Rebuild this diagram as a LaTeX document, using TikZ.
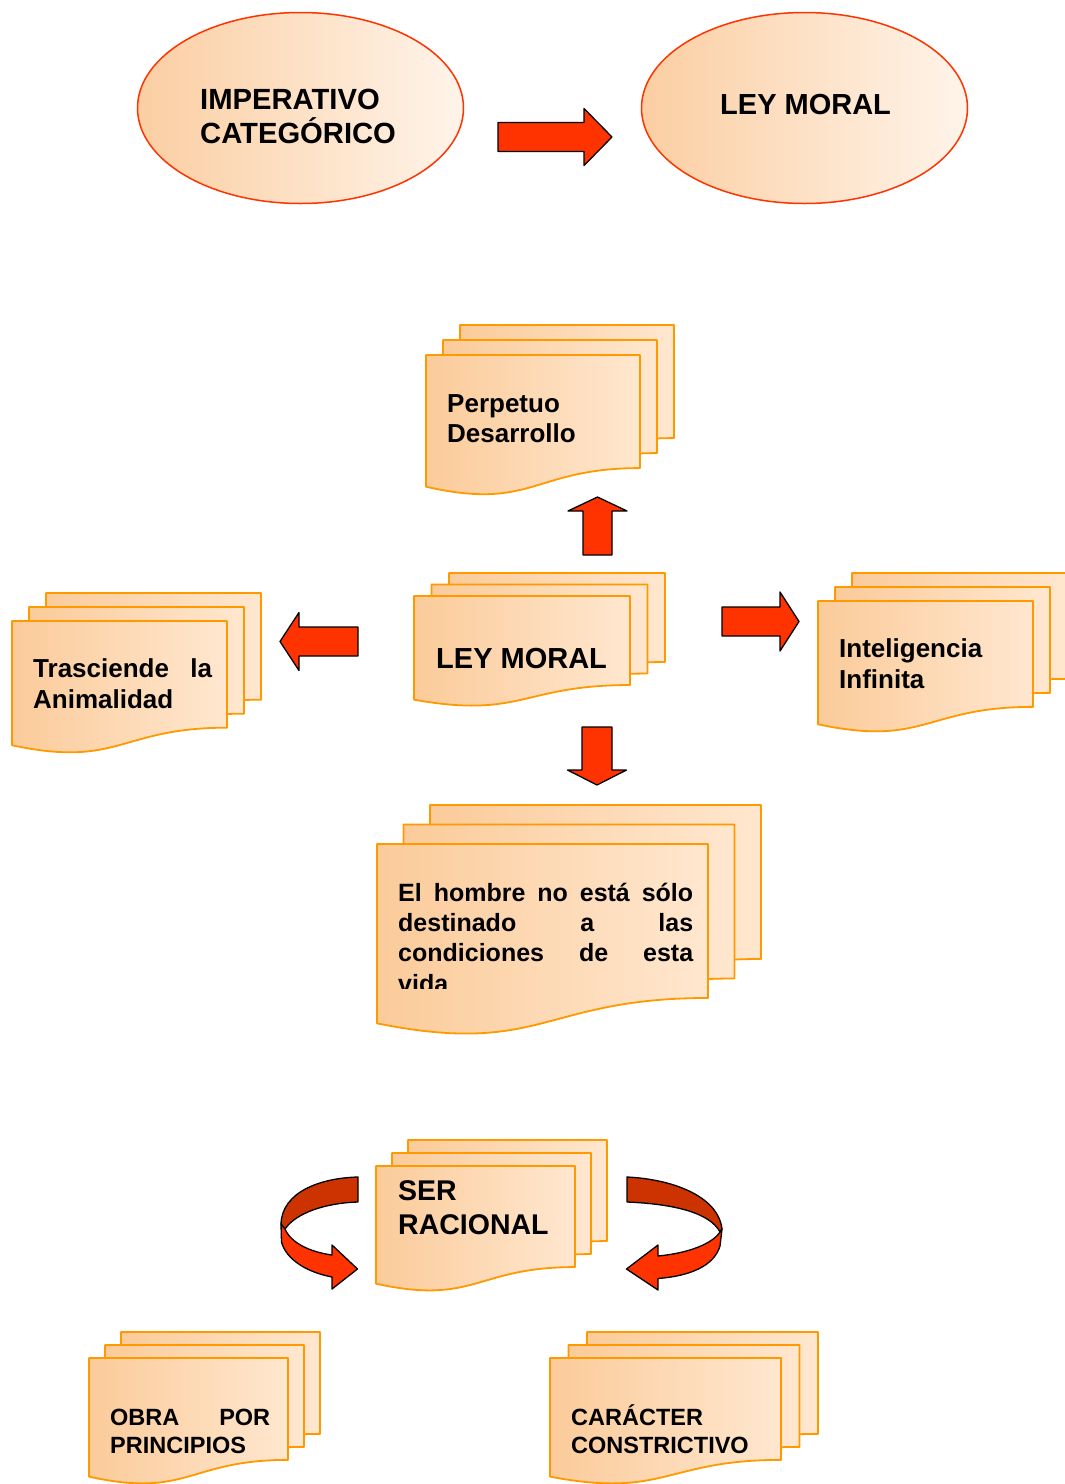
\documentclass[tikz,border=0pt]{standalone}
\usepackage{fontspec}
\setmainfont{Liberation Sans}
\usetikzlibrary{shapes.geometric}

\definecolor{docline}{RGB}{255,153,0}
\definecolor{docdark}{RGB}{251,203,154}
\definecolor{doclight}{RGB}{255,231,207}
\definecolor{ovdark}{RGB}{251,206,162}
\definecolor{ovlight}{RGB}{255,244,234}
\definecolor{ovline}{RGB}{255,51,0}
\definecolor{arrred}{RGB}{255,51,0}
\definecolor{arrdark}{RGB}{204,51,0}

% one sheet: x, y, width, height
\newcommand{\docpage}[4]{%
  \path[docpage] (#1,#2) -- ({#1+#3},#2) -- ({#1+#3},{#2+0.802*#4})
    .. controls ({#1+0.5*#3},{#2+0.802*#4}) and ({#1+0.5*#3},{#2+1.1075*#4}) .. (#1,{#2+0.934*#4}) -- cycle;}
% three sheets: x, y, width, height, dx, dy
\newcommand{\docstack}[6]{%
  \docpage{#1+2*#5}{#2-2*#6}{#3}{#4}
  \docpage{#1+#5}{#2-#6}{#3}{#4}
  \docpage{#1}{#2}{#3}{#4}}
% block arrow: tail x, tail y, angle, length, shaft half, head half, head length
\newcommand{\blockarrow}[7]{%
  \begin{scope}[shift={(#1,#2)},rotate=#3]
    \path[blockarr] (0,-#5) -- ({#4-#7},-#5) -- ({#4-#7},-#6) -- (#4,0)
      -- ({#4-#7},#6) -- ({#4-#7},#5) -- (0,#5) -- cycle;
  \end{scope}}

\begin{document}
\begin{tikzpicture}
  [x=1pt,y=-1pt,
   docpage/.style={draw=docline,line width=1.8pt,left color=docdark,right color=doclight,line join=round},
   oval/.style={ellipse,draw=ovline,line width=1.5pt,left color=ovdark,right color=ovlight,
     minimum width=326pt,minimum height=191pt},
   blockarr/.style={draw=black,fill=arrred,line width=1.3pt,line join=round},
   curvback/.style={draw=black,fill=arrdark,line width=1.3pt,line join=round},
   curvfront/.style={draw=black,fill=arrred,line width=1.3pt,line join=round},
   txt/.style 2 args={font=\bfseries\fontsize{#1}{#2}\selectfont,inner sep=0pt,anchor=base west,align=left}]
  \clip (0,0) rectangle (1065,1484);

  % top row
  \node[oval] (imp) at (300.5,108) {};
  \node[oval] (ley) at (804.5,108) {};
  \node[txt={29.2}{34},text width=210pt] (impt) at (200,109) {IMPERATIVO\\CATEGÓRICO};
  \node[txt={29}{34}] (leyt) at (720,114) {LEY MORAL};
  \blockarrow{498}{137}{0}{114}{14.5}{28.5}{28}

  % sheets
  \foreach \x/\y/\w/\h/\dx/\dy in {426/355/214/141/17/15, 414/596/216/111/17.5/11.5,
      12/621/215/133/17/14, 818/601/215/132/17/14, 377/844/331/192/26.5/19.5,
      376/1166/199/126/16/13, 89/1358/199/127/16/13, 550/1358/231/127/18.5/13}
    \docstack{\x}{\y}{\w}{\h}{\dx}{\dy};

  \node[txt={26}{30.5},text width=180pt] (perpt) at (447,412) {Perpetuo\\Desarrollo};
  \node[txt={29}{34}] (leymt) at (436,668) {LEY MORAL};
  \node[txt={26}{31},text width=179pt] (trast) at (33,677) {Trasciende\hfill la\\Animalidad};
  \node[txt={26}{31},text width=180pt] (intelt) at (839,657) {Inteligencia\\Infinita};
  \begin{scope}
    \clip (377,844) rectangle (708,988);
    \node[txt={25}{30.2},text width=295pt] (hombt) at (398,901.5)
      {El\hfill hombre\hfill no\hfill está\hfill sólo\\destinado\hfill a\hfill las\\condiciones\hfill de\hfill esta\\vida};
  \end{scope}
  \node[txt={28.5}{34},text width=180pt] (sert) at (398,1200) {SER\\RACIONAL};
  \node[txt={23.5}{28},text width=160pt] (obrat) at (110,1425) {OBRA\hfill POR\\PRINCIPIOS};
  \node[txt={23.5}{28},text width=200pt] (caract) at (571,1425) {CARÁCTER\\CONSTRICTIVO};

  % arrows round LEY MORAL
  \blockarrow{597.5}{555}{90}{58}{14.5}{29.5}{14}
  \blockarrow{358}{641.5}{180}{78}{14.5}{29}{19}
  \blockarrow{722}{621.5}{0}{77}{14.5}{29.5}{19}
  \blockarrow{597}{727}{-90}{58}{15}{29.5}{15}

  % curved arrows
  \path[curvback] (358,1177) .. controls (320,1178) and (282,1192) .. (281,1224)
    -- (285,1229) .. controls (296,1213) and (325,1203) .. (358,1202) -- cycle;
  \path[curvfront] (281,1224) -- (281.5,1242) .. controls (286,1259) and (306,1272) .. (332,1277)
    -- (332,1289) -- (357.5,1269) -- (332,1245) -- (332,1255)
    .. controls (310,1252) and (291,1243) .. (285,1229) -- cycle;
  \path[curvback] (627,1177) .. controls (670,1179) and (718,1195) .. (722,1229)
    -- (720,1232) .. controls (710,1213) and (675,1204) .. (627,1202) -- cycle;
  \path[curvfront] (722,1229) -- (720,1246) .. controls (714,1266) and (690,1276) .. (658,1278.5)
    -- (658,1290) -- (626.5,1269) -- (658,1245) -- (658,1256)
    .. controls (690,1253) and (713,1243) .. (720,1232) -- cycle;

\end{tikzpicture}
\end{document}
